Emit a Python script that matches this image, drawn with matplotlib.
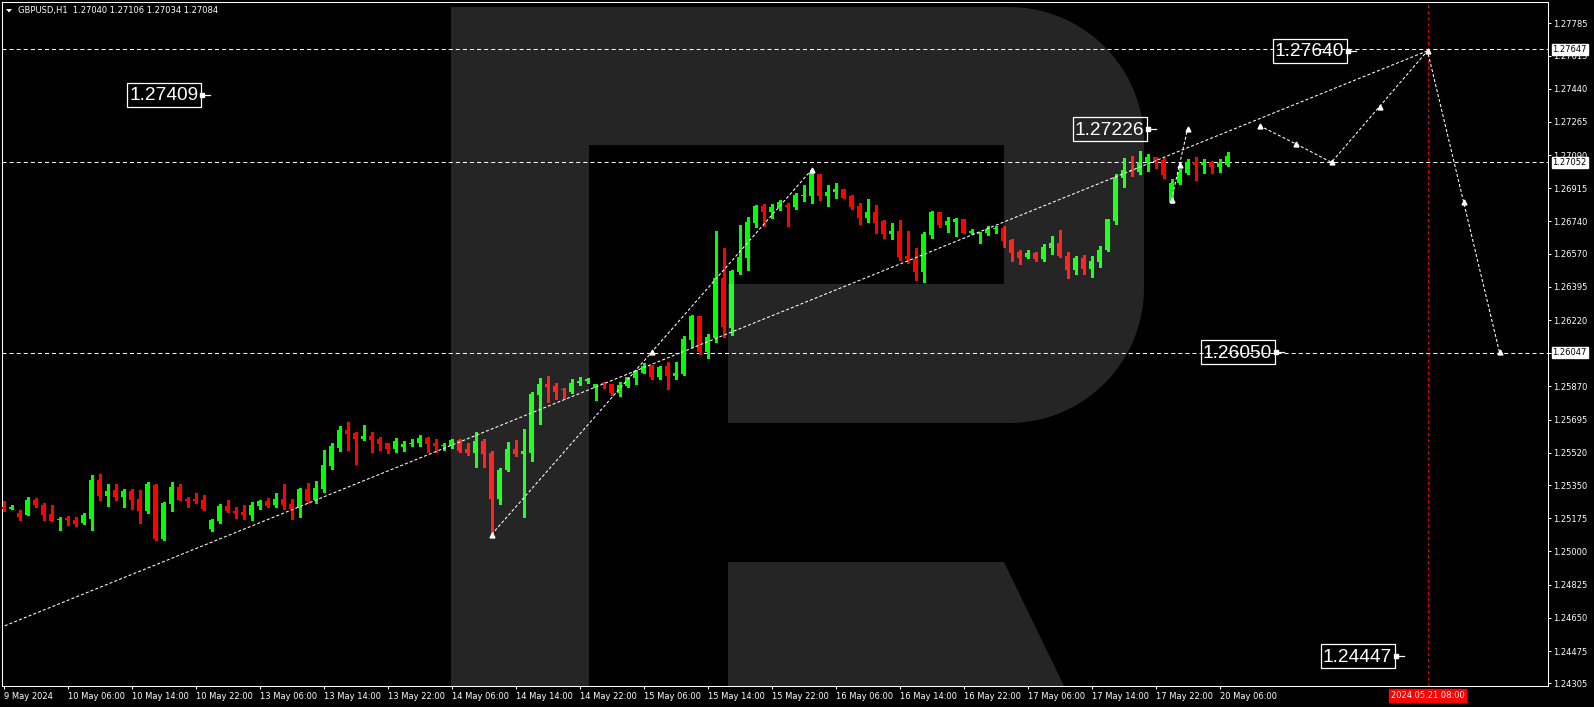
import numpy as np
import matplotlib.pyplot as plt
from matplotlib.patches import Rectangle, Polygon
from matplotlib.transforms import blended_transform_factory

plt.rcParams['lines.scale_dashes'] = False
plt.rcParams['font.family'] = 'DejaVu Sans'

# ---------------- data (GBPUSD H1, bar 0 = 9 May 22:00) ----------------
opens = [
    1.25236, 1.25222, 1.25205, 1.25190, 1.25273, 1.25247, 1.25199, 1.25164, 1.25174, 1.25166,
    1.25148, 1.25169, 1.25378, 1.25294, 1.25326, 1.25289, 1.25320, 1.25278, 1.25215, 1.25352,
    1.25067, 1.25252, 1.25341, 1.25278, 1.25278, 1.25273, 1.25120, 1.25162, 1.25241, 1.25215,
    1.25210, 1.25194, 1.25241, 1.25268, 1.25247, 1.25278, 1.25252, 1.25231, 1.25331, 1.25273,
    1.25331, 1.25452, 1.25547, 1.25642, 1.25626, 1.25595, 1.25610, 1.25595, 1.25573, 1.25542,
    1.25552, 1.25568, 1.25573, 1.25600, 1.25573, 1.25558, 1.25558, 1.25589, 1.25542, 1.25521,
    1.25584, 1.25521, 1.25278, 1.25431, 1.25542, 1.25515, 1.25521, 1.25826, 1.25884, 1.25874,
    1.25858, 1.25842, 1.25890, 1.25899, 1.25863, 1.25890, 1.25884, 1.25837, 1.25874, 1.25916,
    1.25942, 1.25979, 1.25921, 1.25979, 1.25927, 1.25937, 1.26116, 1.26243, 1.26053, 1.26127,
    1.26443, 1.26179, 1.26475, 1.26548, 1.26733, 1.26822, 1.26791, 1.26812, 1.26828, 1.26817,
    1.26875, 1.26875, 1.26991, 1.26875, 1.26896, 1.26912, 1.26875, 1.26822, 1.26759, 1.26791,
    1.26743, 1.26675, 1.26691, 1.26559, 1.26543, 1.26475, 1.26670, 1.26791, 1.26722, 1.26738,
    1.26754, 1.26680, 1.26673, 1.26680, 1.26701, 1.26706, 1.26643, 1.26580, 1.26554, 1.26575,
    1.26543, 1.26601, 1.26627, 1.26559, 1.26485, 1.26548, 1.26490, 1.26527, 1.26591, 1.26743,
    1.26970, 1.27012, 1.27002, 1.27054, 1.27081, 1.27065, 1.26843, 1.26944, 1.26996, 1.27054,
    1.27038, 1.27054, 1.27028, 1.27040,
]
highs = [
    1.25268, 1.25245, 1.25219, 1.25289, 1.25283, 1.25256, 1.25245, 1.25183, 1.25185, 1.25183,
    1.25205, 1.25405, 1.25410, 1.25357, 1.25357, 1.25331, 1.25331, 1.25326, 1.25368, 1.25354,
    1.25262, 1.25368, 1.25357, 1.25289, 1.25310, 1.25299, 1.25170, 1.25252, 1.25273, 1.25236,
    1.25247, 1.25262, 1.25273, 1.25283, 1.25310, 1.25357, 1.25278, 1.25336, 1.25363, 1.25373,
    1.25537, 1.25573, 1.25663, 1.25684, 1.25629, 1.25668, 1.25631, 1.25605, 1.25573, 1.25600,
    1.25584, 1.25595, 1.25616, 1.25605, 1.25595, 1.25573, 1.25595, 1.25595, 1.25573, 1.25631,
    1.25595, 1.25531, 1.25442, 1.25579, 1.25589, 1.25647, 1.25842, 1.25916, 1.25927, 1.25890,
    1.25863, 1.25911, 1.25921, 1.25914, 1.25884, 1.25895, 1.25884, 1.25895, 1.25921, 1.25958,
    1.25995, 1.25984, 1.25979, 1.26000, 1.26000, 1.26137, 1.26248, 1.26243, 1.26148, 1.26691,
    1.26601, 1.26485, 1.26722, 1.26764, 1.26828, 1.26833, 1.26833, 1.26854, 1.26838, 1.26891,
    1.26933, 1.27012, 1.26991, 1.26933, 1.26944, 1.26912, 1.26880, 1.26838, 1.26859, 1.26828,
    1.26749, 1.26733, 1.26749, 1.26691, 1.26601, 1.26685, 1.26796, 1.26791, 1.26764, 1.26759,
    1.26754, 1.26701, 1.26685, 1.26717, 1.26717, 1.26717, 1.26648, 1.26591, 1.26591, 1.26580,
    1.26622, 1.26664, 1.26696, 1.26580, 1.26559, 1.26564, 1.26559, 1.26612, 1.26754, 1.26991,
    1.27075, 1.27086, 1.27112, 1.27096, 1.27081, 1.27075, 1.26965, 1.27017, 1.27070, 1.27081,
    1.27070, 1.27060, 1.27070, 1.27106,
]
lows = [
    1.25215, 1.25222, 1.25164, 1.25190, 1.25232, 1.25164, 1.25162, 1.25115, 1.25138, 1.25136,
    1.25143, 1.25115, 1.25269, 1.25241, 1.25273, 1.25236, 1.25226, 1.25152, 1.25205, 1.25062,
    1.25062, 1.25215, 1.25270, 1.25236, 1.25257, 1.25220, 1.25110, 1.25152, 1.25210, 1.25178,
    1.25173, 1.25168, 1.25226, 1.25236, 1.25236, 1.25226, 1.25173, 1.25183, 1.25257, 1.25257,
    1.25315, 1.25436, 1.25531, 1.25537, 1.25463, 1.25589, 1.25526, 1.25537, 1.25521, 1.25526,
    1.25531, 1.25558, 1.25558, 1.25526, 1.25526, 1.25537, 1.25547, 1.25526, 1.25510, 1.25447,
    1.25447, 1.25089, 1.25252, 1.25426, 1.25505, 1.25183, 1.25479, 1.25674, 1.25790, 1.25805,
    1.25805, 1.25837, 1.25879, 1.25888, 1.25800, 1.25863, 1.25826, 1.25821, 1.25869, 1.25884,
    1.25942, 1.25911, 1.25911, 1.25858, 1.25911, 1.25932, 1.26079, 1.26042, 1.26021, 1.26106,
    1.26132, 1.26143, 1.26464, 1.26485, 1.26712, 1.26717, 1.26759, 1.26801, 1.26717, 1.26807,
    1.26849, 1.26838, 1.26854, 1.26822, 1.26865, 1.26865, 1.26807, 1.26728, 1.26738, 1.26680,
    1.26654, 1.26648, 1.26538, 1.26522, 1.26432, 1.26422, 1.26654, 1.26712, 1.26685, 1.26664,
    1.26680, 1.26675, 1.26627, 1.26670, 1.26680, 1.26606, 1.26532, 1.26517, 1.26548, 1.26532,
    1.26532, 1.26569, 1.26554, 1.26443, 1.26464, 1.26464, 1.26448, 1.26501, 1.26585, 1.26728,
    1.26923, 1.26981, 1.26991, 1.27007, 1.27023, 1.26970, 1.26838, 1.26938, 1.26991, 1.26959,
    1.26996, 1.26996, 1.27002, 1.27034,
]
closes = [
    1.25222, 1.25236, 1.25183, 1.25273, 1.25243, 1.25194, 1.25162, 1.25169, 1.25164, 1.25146,
    1.25194, 1.25378, 1.25294, 1.25320, 1.25289, 1.25320, 1.25273, 1.25215, 1.25357, 1.25067,
    1.25257, 1.25341, 1.25273, 1.25268, 1.25268, 1.25226, 1.25168, 1.25241, 1.25215, 1.25205,
    1.25194, 1.25247, 1.25268, 1.25241, 1.25278, 1.25247, 1.25226, 1.25331, 1.25268, 1.25336,
    1.25457, 1.25558, 1.25642, 1.25621, 1.25595, 1.25610, 1.25589, 1.25568, 1.25542, 1.25584,
    1.25568, 1.25573, 1.25600, 1.25568, 1.25558, 1.25563, 1.25589, 1.25531, 1.25521, 1.25584,
    1.25515, 1.25278, 1.25431, 1.25542, 1.25515, 1.25531, 1.25832, 1.25884, 1.25869, 1.25842,
    1.25853, 1.25890, 1.25900, 1.25907, 1.25884, 1.25884, 1.25837, 1.25879, 1.25921, 1.25953,
    1.25979, 1.25921, 1.25974, 1.25927, 1.25942, 1.26122, 1.26243, 1.26053, 1.26132, 1.26443,
    1.26185, 1.26480, 1.26554, 1.26738, 1.26822, 1.26791, 1.26817, 1.26843, 1.26817, 1.26880,
    1.26880, 1.26996, 1.26875, 1.26896, 1.26912, 1.26865, 1.26817, 1.26759, 1.26791, 1.26733,
    1.26675, 1.26691, 1.26554, 1.26543, 1.26475, 1.26675, 1.26791, 1.26722, 1.26743, 1.26754,
    1.26680, 1.26691, 1.26675, 1.26701, 1.26706, 1.26638, 1.26575, 1.26548, 1.26575, 1.26543,
    1.26606, 1.26627, 1.26559, 1.26485, 1.26548, 1.26490, 1.26532, 1.26591, 1.26754, 1.26975,
    1.27012, 1.27002, 1.27054, 1.27081, 1.27065, 1.26986, 1.26944, 1.27002, 1.27054, 1.27038,
    1.27054, 1.27028, 1.27049, 1.27084,
]

time_ticks = list(range(0, 153, 8))
time_labels = ['9 May 2024', '10 May 06:00', '10 May 14:00', '10 May 22:00', '13 May 06:00',
               '13 May 14:00', '13 May 22:00', '14 May 06:00', '14 May 14:00', '14 May 22:00',
               '15 May 06:00', '15 May 14:00', '15 May 22:00', '16 May 06:00', '16 May 14:00',
               '16 May 22:00', '17 May 06:00', '17 May 14:00', '17 May 22:00', '20 May 06:00']
price_ticks = [1.27785, 1.27615, 1.27440, 1.27265, 1.27090, 1.26915, 1.26740, 1.26570,
               1.26395, 1.26220, 1.26045, 1.25870, 1.25695, 1.25520, 1.25350, 1.25175,
               1.25000, 1.24825, 1.24650, 1.24475, 1.24305]
hline_prices = [1.27647, 1.27052, 1.26047]

trend_bars = [-0.44, 178]
trend_prices = [1.24598, 1.27640]
wave_bars = [61, 81, 101]
wave_prices = [1.25089, 1.26050, 1.27012]
fc1_bars = [146, 147, 148]
fc1_prices = [1.26854, 1.27040, 1.27226]
fc2_bars = [157, 161.5, 166, 172, 178, 182.5, 187]
fc2_prices = [1.27245, 1.27150, 1.27052, 1.27346, 1.27640, 1.26845, 1.26050]

target_labels = ['1.27640', '1.27409', '1.27226', '1.26050', '1.24447']
target_bars = [169, 25.8, 144, 160, 175]
forecast_bar = 178
forecast_time = '2024.05.21 08:00'
header = 'GBPUSD,H1  1.27040 1.27106 1.27034 1.27084'

# ---------------- figure ----------------
W, H = 1594, 707
fig = plt.figure(figsize=(W / 100, H / 100), dpi=100, facecolor='black')
ax = fig.add_axes([2 / W, (H - 686) / H, 1546 / W, 684 / H])
ax.set_facecolor('black')
x0 = -0.1875
ax.set_xlim(x0, x0 + 1546 / 8)
y0, y1 = 1.242908, 1.278973
ax.set_ylim(y0, y1)
bx = 1 / 8.0              # bars per pixel
py = (y1 - y0) / 684      # price per pixel

o = np.array(opens)
h = np.array(highs)
l = np.array(lows)
c = np.array(closes)
idx = np.arange(len(o))
col = np.where(c >= o, '#00ff00', '#ff0000')
ax.vlines(idx, l, h, colors=col, lw=0.75, zorder=3, antialiased=False)
ax.bar(idx, np.maximum(np.abs(c - o), py), bottom=np.minimum(o, c), width=5 * bx,
       color=col, lw=0, zorder=4, antialiased=False)

for s in ax.spines.values():
    s.set_color('white')
    s.set_linewidth(0.75)

ax.yaxis.tick_right()
ax.set_yticks(price_ticks)
ax.set_yticklabels([f'{p:.5f}' for p in price_ticks])
ax.tick_params(axis='y', colors='white', direction='out', length=2.2, width=0.75,
               labelsize=6, pad=1.5)
ax.set_xticks(time_ticks)
ax.set_xticklabels(time_labels, ha='left')
ax.tick_params(axis='x', colors='white', direction='out', length=2.5, width=0.75,
               labelsize=6, pad=1.5)

# horizontal levels with price boxes on the scale
tr_y = blended_transform_factory(ax.transAxes, ax.transData)
for p in hline_prices:
    ax.axhline(p, color='white', lw=0.75, ls=(0, (2.9, 2.2)), zorder=2)
    ax.text(1 + 4.5 / 1546, p, f'{p:.5f}', transform=tr_y, ha='left', va='center',
            fontsize=6, color='black', clip_on=False, zorder=10,
            bbox=dict(boxstyle='square,pad=0.12', fc='white', ec='white'))

# forecast lines
dash = (0, (2.2, 1.5))
ax.plot(trend_bars, trend_prices, color='white', lw=0.75, ls=dash, zorder=5)
for xs, ys in [(wave_bars, wave_prices), (fc1_bars, fc1_prices), (fc2_bars, fc2_prices)]:
    ax.plot(xs, ys, color='white', lw=0.75, ls=dash, zorder=5)
    ax.plot(xs, ys, ls='none', marker='^', ms=3.5, mfc='white', mec='white', zorder=6)

# forecast time line
ax.axvline(forecast_bar, color='#e00000', lw=0.75, ls=(0, (2.2, 2.2)), zorder=2)
tr_x = blended_transform_factory(ax.transData, ax.transAxes)
ax.text(forecast_bar, -9.5 / 684, forecast_time, transform=tr_x, ha='center', va='center',
        fontsize=6, color='white', clip_on=False, zorder=10,
        bbox=dict(boxstyle='square,pad=0.2', fc='#ff0000', ec='#ff0000'))

# target price labels
bw, bh = 74 * bx, 24 * py
for txt, xb in zip(target_labels, target_bars):
    p = float(txt)
    right = xb - 9 * bx
    ax.add_patch(Rectangle((right - bw, p - bh / 2), bw, bh, fc='none', ec='white',
                           lw=0.9, zorder=7))
    ax.text(right - bw / 2, p - 1 * py, txt, ha='center', va='center', color='white',
            fontsize=13.8, family='Liberation Sans', zorder=7)
    ax.plot([right, xb], [p, p], color='white', lw=0.9, zorder=7)
    ax.plot([right + 1.5 * bx], [p], marker='s', ms=2.5, color='white', zorder=7)

# overlay: watermark and header, in figure pixels
wm = fig.add_axes([0, 0, 1, 1])
wm.set_xlim(0, W)
wm.set_ylim(H, 0)
wm.axis('off')
wm.set_zorder(5)
wm.patch.set_visible(False)


def arc(cx, cy, r, a0, a1, n=40):
    t = np.radians(np.linspace(a0, a1, n))
    return list(zip(cx + r * np.cos(t), cy + r * np.sin(t)))


outer = ([(451, 7)] + arc(1009, 142, 135, -90, 0) + arc(1009, 288, 135, 0, 90) +
         [(728, 423), (728, 284), (1004, 284), (1004, 145), (589, 145), (589, 686), (451, 686)])
leg = [(728, 562), (1004, 562), (1064, 686), (728, 686)]
for pts in (outer, leg):
    wm.add_patch(Polygon(pts, closed=True, fc=(1, 1, 1, 0.15), ec='none'))

wm.add_patch(Polygon([(6, 9), (12, 9), (9, 12.5)], closed=True, fc='white', ec='none'))
wm.text(18, 10.8, header, fontsize=6, color='white', ha='left', va='center')

fig.savefig('out.png', dpi=100, facecolor='black')
